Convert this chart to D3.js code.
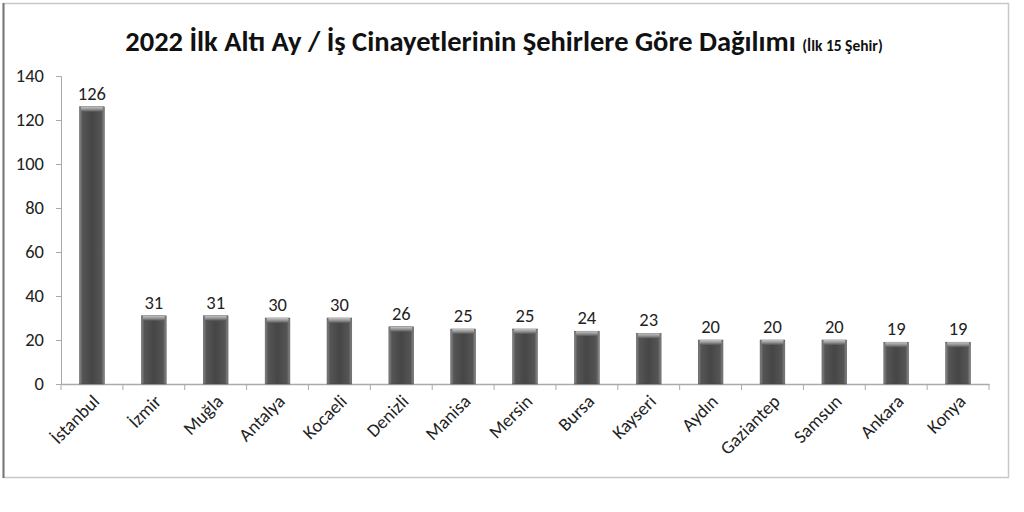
<!DOCTYPE html>
<html><head><meta charset="utf-8">
<script src="https://cdn.jsdelivr.net/npm/d3@7"></script>
<style>body{margin:0;background:#fff}svg{display:block}</style>
</head><body>
<svg id="c" width="1024" height="512"></svg>
<script>
const categories = ["İstanbul","İzmir","Muğla","Antalya","Kocaeli","Denizli","Manisa","Mersin","Bursa","Kayseri","Aydın","Gaziantep","Samsun","Ankara","Konya"];
const values = [126,31,31,30,30,26,25,25,24,23,20,20,20,19,19];
const yTicks = [0,20,40,60,80,100,120,140];

const svg = d3.select("#c");
const font = "Carlito, 'Open Sans', 'Noto Sans', sans-serif";
// frame
svg.append("rect").attr("x",3.5).attr("y",3.5).attr("width",1005).attr("height",474)
  .attr("fill","#fff").attr("stroke","#c8c8c8").attr("stroke-width",1.5);
svg.append("line").attr("x1",3.5).attr("x2",3.5).attr("y1",3).attr("y2",478).attr("stroke","#777").attr("stroke-width",2);

const x = d3.scaleBand().domain(categories).range([61,989]).paddingInner(0.6).paddingOuter(0.3);
const y = d3.scaleLinear().domain([0,140]).range([384,76]);

const defs = svg.append("defs");
const g1 = defs.append("linearGradient").attr("id","bar").attr("x1","0").attr("x2","1").attr("y1","0").attr("y2","0");
[[0,"#8a8a8a"],[0.12,"#555"],[0.5,"#464646"],[0.88,"#555"],[1,"#8a8a8a"]].forEach(s=>g1.append("stop").attr("offset",s[0]).attr("stop-color",s[1]));
const g2 = defs.append("linearGradient").attr("id","cap").attr("x1","0").attr("x2","0").attr("y1","0").attr("y2","1");
[[0,"#d8d8d8"],[0.5,"#a0a0a0"],[1,"#555"]].forEach(s=>g2.append("stop").attr("offset",s[0]).attr("stop-color",s[1]));

// title
const t = svg.append("text").attr("x",504).attr("y",51).attr("text-anchor","middle")
  .attr("font-family",font).attr("font-weight","bold").attr("fill","#111");
t.append("tspan").attr("font-size",28.5).text("2022 İlk Altı Ay / İş Cinayetlerinin Şehirlere Göre Dağılımı ");
t.append("tspan").attr("font-size",15.5).text("(İlk 15 Şehir)");

// y axis
const ya = svg.append("g").attr("transform","translate(61,0)")
  .call(d3.axisLeft(y).tickValues(yTicks).tickSize(5).tickPadding(12));
ya.select(".domain").attr("stroke","#aaa");
ya.selectAll(".tick line").attr("stroke","#aaa");
ya.selectAll("text").attr("font-family",font).attr("font-size",18.5).attr("fill","#222");

// x axis
const xa = svg.append("g").attr("transform","translate(0,384)")
  .call(d3.axisBottom(x).tickSize(0).tickSizeOuter(0).tickFormat(""));
xa.select(".domain").attr("stroke","#aaa").attr("stroke-width",1.5);
svg.append("g").selectAll("line").data(d3.range(categories.length+1)).join("line")
  .attr("x1",i=>61+i*(989-61)/categories.length).attr("x2",i=>61+i*(989-61)/categories.length)
  .attr("y1",384).attr("y2",390).attr("stroke","#aaa");

// bars
const bars = svg.append("g").selectAll("g").data(categories).join("g");
bars.append("rect").attr("x",d=>x(d)).attr("width",x.bandwidth())
  .attr("y",(d,i)=>y(values[i])).attr("height",(d,i)=>y(0)-y(values[i]))
  .attr("fill","url(#bar)").attr("stroke","#444").attr("stroke-width",0.5);
bars.append("rect").attr("x",d=>x(d)+1.5).attr("width",x.bandwidth()-3)
  .attr("y",(d,i)=>y(values[i])).attr("height",5).attr("fill","url(#cap)").attr("opacity",0.85);

// value labels
svg.append("g").selectAll("text").data(categories).join("text")
  .attr("x",d=>x(d)+x.bandwidth()/2).attr("y",(d,i)=>y(values[i])-7)
  .attr("text-anchor","middle").attr("font-family",font).attr("font-size",18.5).attr("fill","#222")
  .text((d,i)=>values[i]);

// category labels
svg.append("g").selectAll("text").data(categories).join("text")
  .attr("transform",d=>`translate(${x(d)+x.bandwidth()/2+4},${398}) rotate(-45)`)
  .attr("text-anchor","end").attr("dy","0.35em").attr("font-family",font).attr("font-size",18.5).attr("fill","#222")
  .text(d=>d);
</script>
</body></html>
